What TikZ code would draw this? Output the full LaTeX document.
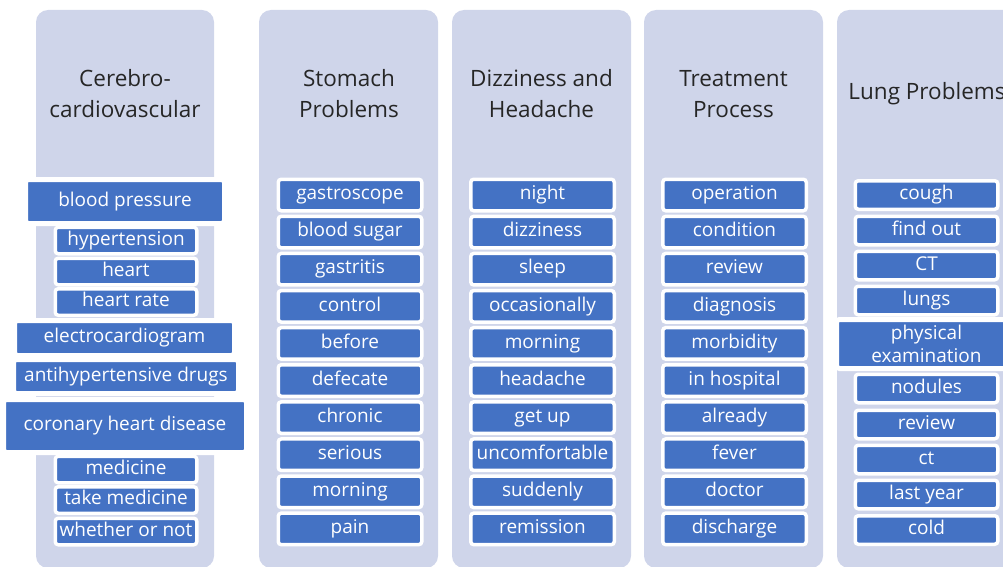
\documentclass[tikz,border=0pt]{standalone}
\usepackage{fontspec}
\setmainfont{Open Sans}
\definecolor{lav}{HTML}{CFD5EA}
\definecolor{bl}{HTML}{4472C4}
\definecolor{hd}{HTML}{262626}
\tikzset{
  colbg/.style={fill=lav, rounded corners=12pt},
  head/.style={text=hd, font=\fontsize{22.5}{31}\selectfont, align=center, inner sep=0pt},
  boxbase/.style={fill=bl, draw=white, rounded corners=3pt, text=white, inner sep=0pt,
    font=\fontsize{19}{22}\selectfont},
  sbox/.style={boxbase, line width=3.5pt, minimum width=143.5pt, minimum height=31.5pt,
    text height=13pt, text depth=3.5pt},
  cbox/.style={boxbase, line width=3.5pt, minimum width=141.5pt, minimum height=26.5pt,
    text height=13pt, text depth=3.5pt},
  lbox/.style={boxbase, line width=3.5pt, minimum width=142.5pt, minimum height=28.5pt,
    text height=13pt, text depth=3.5pt},
  bbox/.style={boxbase, line width=5pt, text height=13pt, text depth=3.5pt},
}
\begin{document}
\begin{tikzpicture}[x=1pt, y=-1pt]
\useasboundingbox (0,0) rectangle (1003,567);
% columns
\fill[colbg] (36,10) rectangle (214,568);
\fill[colbg] (259,10) rectangle (438,568);
\fill[colbg] (452,10) rectangle (631,568);
\fill[colbg] (644,10) rectangle (823,568);
\fill[colbg] (837,10) rectangle (1020,568);
% headers
\node[head] (h1) at (125,94) {Cerebro-\\cardiovascular};
\node[head] (h2) at (349,94) {Stomach\\Problems};
\node[head] (h3) at (541.5,94) {Dizziness and\\Headache};
\node[head] (h4) at (733.5,94) {Treatment\\Process};
\node[head] (h5) at (927,94) {Lung Problems};
% column 1
\node[cbox] (hyp) at (126,240.5) {hypertension};
\node[cbox] (heart) at (126,271.5) {heart};
\node[cbox] (hr) at (126,302) {heart rate};
\node[cbox] (med) at (126,469.5) {medicine};
\node[cbox] (tm) at (126,500) {take medicine};
\node[cbox] (wn) at (126,531.5) {whether or not};
\node[bbox, minimum width=199pt, minimum height=44pt] (bp) at (125,201.5) {blood pressure};
\node[bbox, minimum width=220pt, minimum height=35pt] (ecg) at (124.5,338) {electrocardiogram};
\node[bbox, minimum width=225pt, minimum height=34pt] (ahd) at (126,376.5) {antihypertensive drugs};
\node[bbox, minimum width=243pt, minimum height=53pt] (chd) at (125,426) {coronary heart disease};
% column 2
\foreach \t [count=\i from 0] in {gastroscope, blood sugar, gastritis, control, before, defecate, chronic, serious, morning, pain}
  \node[sbox] (b\i) at (350,{195+37.1*\i}) {\t};
% column 3
\foreach \t [count=\i from 0] in {night, dizziness, sleep, occasionally, morning, headache, get up, uncomfortable, suddenly, remission}
  \node[sbox] (d\i) at (542.5,{195+37.1*\i}) {\t};
% column 4
\foreach \t [count=\i from 0] in {operation, condition, review, diagnosis, morbidity, in hospital, already, fever, doctor, discharge}
  \node[sbox] (t\i) at (734.5,{195+37.1*\i}) {\t};
% column 5
\node[lbox] (cough) at (926.5,195) {cough};
\node[lbox] (fo) at (926.5,230.5) {find out};
\node[lbox] (CT) at (926.5,265.5) {CT};
\node[lbox] (lungs) at (926.5,300.5) {lungs};
\node[lbox] (nod) at (926.5,388.5) {nodules};
\node[lbox] (rev) at (926.5,424.5) {review};
\node[lbox] (ct) at (926.5,459.5) {ct};
\node[lbox] (ly) at (926.5,494.5) {last year};
\node[lbox] (cold) at (926.5,530) {cold};
\node[boxbase, line width=5pt, minimum width=180pt, minimum height=49pt, align=center,
  font=\fontsize{19}{23}\selectfont] (pe) at (926.5,344) {physical\\examination};
\end{tikzpicture}
\end{document}
